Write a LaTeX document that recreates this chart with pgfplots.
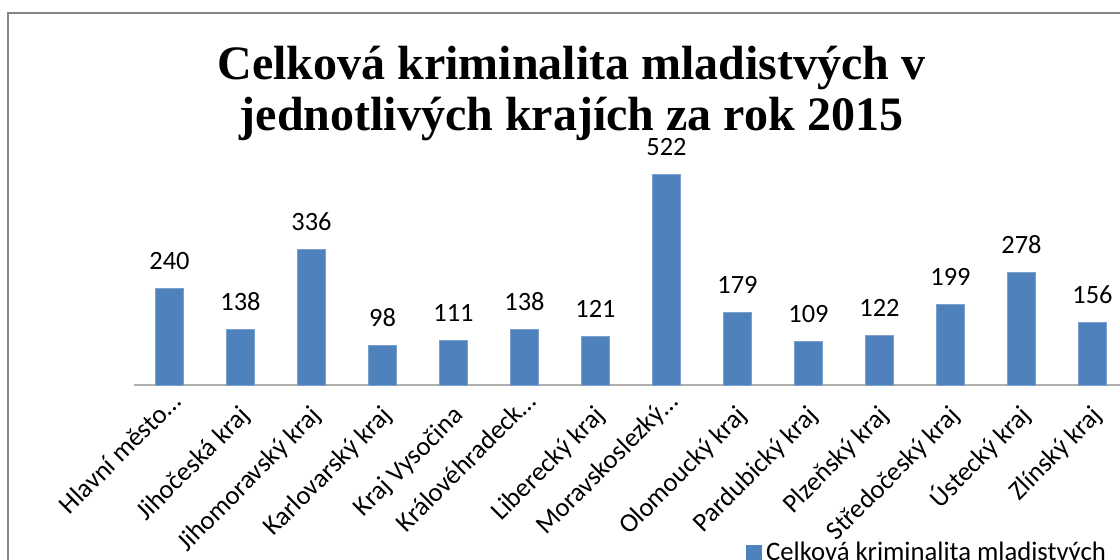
\documentclass[border=0pt]{standalone}
\usepackage{fontspec}
\setmainfont{Carlito}
\newfontfamily\titlefont{Liberation Serif}
\usepackage{pgfplots}
\pgfplotsset{compat=1.18}
\definecolor{barblue}{RGB}{79,129,189}
\definecolor{framegray}{RGB}{134,134,134}
\definecolor{axgray}{RGB}{175,175,175}
\newcommand{\trunc}[1]{\raisebox{4.25pt}{#1}\hspace*{-5.5pt}}
\begin{document}
\begin{tikzpicture}[x=0.5pt,y=0.5pt]
\useasboundingbox (0,0) rectangle (1120,560);
\clip (0,0) rectangle (1120,560);
\fill[white] (0,0) rectangle (1120,560);
\draw[framegray,line width=1pt] (8,547) rectangle (1160,-40);
\node[font=\titlefont\bfseries\fontsize{24}{25.5}\selectfont, align=center, anchor=base] at (571.5,429)
  {Celková kriminalita mladistvých v\\jednotlivých krajích za rok 2015};
\begin{axis}[
  at={(67pt,87.5pt)}, anchor=south west,
  scale only axis, width=497pt, height=121pt,
  xmin=-0.5, xmax=13.5, ymin=0, ymax=600,
  axis x line=bottom, axis y line=none,
  x axis line style={axgray, line width=0.8pt, -},
  xtick=data,
  xtick style={draw=none},
  xticklabels={\trunc{Hlavní město…}, Jihočeská kraj, Jihomoravský kraj, Karlovarský kraj, Kraj Vysočina, \trunc{Královéhradeck…}, Liberecký kraj, \trunc{Moravskoslezký…}, Olomoucký kraj, Pardubický kraj, Plzeňský kraj, Středočeský kraj, Ústecký kraj, Zlínský kraj},
  xticklabel style={font=\fontsize{13.3}{15}\selectfont, inner sep=0pt, text height=10pt, text depth=3.3pt, xshift=3.15pt, yshift=-9.2pt, rotate=45, anchor=east},
  /pgf/number format/assume math mode=true,
  ybar, bar width=14pt,
  nodes near coords,
  every node near coord/.append style={font=\fontsize{13.2}{15}\selectfont, anchor=base, yshift=9.5pt, black},
  legend style={at={(0.6157,-0.6925)}, anchor=west, draw=none, fill=none, font=\fontsize{13.35}{15}\selectfont, inner sep=0pt},
  legend image code/.code={\fill[barblue] (0pt,-3.75pt) rectangle (7.5pt,3.75pt);},
  clip=false,
]
\addplot[fill=barblue, draw=barblue!75!white, line width=0.4pt] coordinates {
(0,240) (1,138) (2,336) (3,98) (4,111) (5,138) (6,121) (7,522) (8,179) (9,109) (10,122) (11,199) (12,278) (13,156)};
\addlegendentry{Celková kriminalita mladistvých}
\end{axis}
\end{tikzpicture}
\end{document}
